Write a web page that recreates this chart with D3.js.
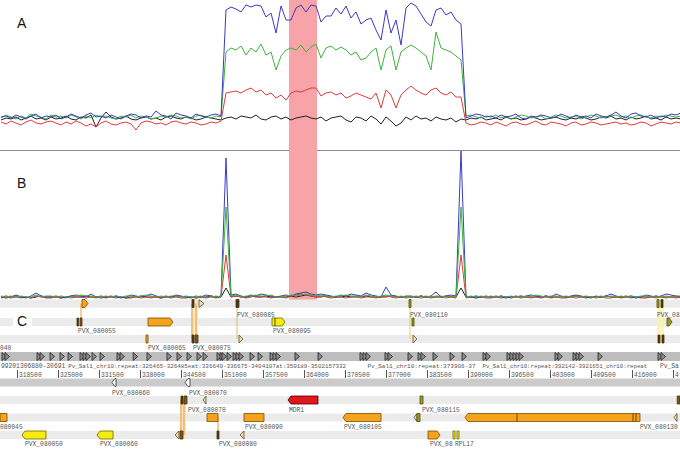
<!DOCTYPE html>
<html><head><meta charset="utf-8">
<script src="https://cdn.jsdelivr.net/npm/d3@7"></script>
<style>body{margin:0;background:#fff}svg{display:block}</style>
</head><body><svg id="c" width="680" height="449"></svg>
<script>
// ---- data ----
const viewBp = [315805, 423612];
const binStart = 315964, binSize = 792.7;
const highlightBp = [361623, 366062];
const panelLabels = ["A", "B", "C"];

const aBlue = [23,24,22,25,23,21,24,26,22,24,23,25,21,23,26,24,22,25,27,23,24,22,25,23,21,24,26,25,22,24,23,29,25,24,21,27,25,24,22,26,24,23,25,26,24,
 130,133,131,128,135,133,135,134,123,127,107,134,120,120,132,135,128,135,134,118,124,124,132,126,134,122,128,116,120,122,110,100,130,107,120,95,132,137,134,126,118,114,130,132,125,128,120,116,
 22,24,26,25,23,24,22,25,23,24,26,22,21,24,23,25,24,22,23,26,24,22,25,23,24,22,26,24,23,25,28,24,22,26,27,24,23,25,22,24,23,26,25,27];
const aGreen = [22,25,23,21,24,22,26,24,23,21,25,23,24,22,25,23,21,24,22,25,23,24,22,21,24,23,25,22,24,23,21,22,24,23,25,24,22,23,21,24,25,23,22,24,23,
 88,92,90,94,85,92,88,96,85,88,70,84,90,92,90,95,88,93,96,82,92,94,90,93,90,85,88,80,82,88,92,70,90,94,70,88,92,95,92,88,84,70,108,92,90,88,84,80,
 24,25,23,22,24,23,25,22,24,21,23,25,24,22,23,24,21,23,25,24,22,23,24,21,23,25,24,22,23,24,25,23,24,22,24,25,23,22,24,23,25,24,23,24];
const aRed = [18,16,19,17,15,18,20,17,16,18,19,17,15,18,16,19,17,14,16,13,17,19,16,15,17,18,16,10,17,19,18,16,17,15,18,19,17,16,18,17,15,16,18,17,19,
 47,48,49,47,50,52,48,50,45,47,42,45,40,47,49,48,50,52,52,44,47,48,45,47,42,44,47,45,43,41,47,32,50,45,32,45,50,54,50,47,45,50,52,47,45,48,43,43,
 17,15,16,18,17,15,18,16,14,17,18,16,15,17,19,16,15,18,17,16,14,17,18,15,16,18,17,15,16,17,18,16,17,15,16,18,17,14,16,18,17,16,18,17];
const aBlack = [20,22,21,23,20,22,24,21,22,20,23,21,22,24,21,20,23,22,25,13,22,28,23,21,22,24,21,20,22,23,21,22,20,23,24,22,21,23,22,20,21,23,22,21,20,
 22,23,21,24,23,22,25,21,20,23,24,21,23,20,22,23,24,22,21,23,19,22,23,24,20,18,23,22,19,24,21,16,23,19,14,17,23,20,24,21,22,19,23,21,20,22,18,21,
 20,22,21,23,20,21,22,20,23,21,22,20,21,23,22,20,21,22,23,21,20,22,21,23,22,20,21,23,22,24,21,22,20,23,21,22,24,21,22,20,23,21,22,21];

const bBlue = [3,4,3,5,3,2,4,7,4,3,3,4,3,2,4,5,4,3,6,3,4,3,4,3,2,3,5,4,3,4,6,4,3,4,3,5,4,3,2,4,3,5,4,3,4,
 142,
 5,6,4,3,5,4,6,5,4,3,4,5,4,6,7,8,6,5,6,5,4,3,5,4,6,5,4,7,5,4,3,13,5,4,3,4,4,3,4,3,4,8,3,4,5,4,
 149,
 4,3,2,3,4,3,4,3,2,3,4,3,4,5,4,3,4,3,6,4,3,4,5,4,3,2,4,3,4,6,4,3,4,3,2,3,5,4,3,4,6,5,4,3];
const bGreen = [4,3,4,3,4,3,3,5,3,4,4,3,4,3,3,4,5,4,4,3,3,4,3,4,3,4,4,3,4,5,4,3,4,3,4,4,3,4,3,3,4,3,3,4,3,
 93,
 4,5,3,4,4,5,4,4,5,3,3,4,5,4,5,6,5,4,5,4,3,4,4,5,4,4,3,5,4,3,4,5,4,3,4,3,3,4,3,4,3,4,4,3,4,3,
 93,
 3,4,3,4,3,4,3,4,3,4,3,4,3,4,5,4,3,4,4,3,4,3,4,3,4,3,3,4,3,4,3,4,3,4,3,4,4,3,4,3,4,3,4,4];
const bRed = [2,3,2,3,2,3,2,4,3,2,2,3,2,3,2,3,3,2,3,2,3,2,3,2,3,2,2,3,2,3,2,3,2,3,2,3,2,2,3,2,3,2,3,2,3,
 45,
 3,4,3,2,3,4,3,3,2,3,3,2,4,5,6,5,4,3,4,3,2,3,3,2,3,4,2,3,3,2,3,4,3,2,3,2,3,3,2,3,2,3,3,2,3,2,
 45,
 2,3,2,3,2,2,3,2,3,2,3,2,3,2,3,2,3,2,3,2,2,3,2,3,2,3,2,3,2,2,3,2,3,2,3,2,2,3,2,3,2,3,2,3];
const bBlack = [3,2,3,4,3,3,2,3,4,3,3,3,2,3,4,3,3,4,3,3,2,3,3,4,3,2,3,3,4,3,3,3,2,3,3,4,3,3,3,2,3,3,4,3,3,
 12,
 3,4,3,3,4,3,3,4,3,3,3,3,4,3,4,5,4,3,3,4,3,3,3,4,3,3,3,4,3,3,3,3,4,3,3,3,3,3,4,3,3,3,3,4,3,3,
 12,
 3,3,4,3,3,3,3,4,3,3,3,4,3,3,3,3,4,3,3,3,3,3,4,3,3,3,3,3,4,3,3,3,3,4,3,3,3,3,4,3,3,3,3,3];

const tickLabels = [318500,325000,331500,338000,344500,351000,357500,364000,370500,377000,383500,390000,396500,403000,409500,416000,422500];

const repeatStarts = [316122,316598,321671,322147,323732,325317,326586,328488,328964,329439,330391,331659,334354,334830,336916,339110,342281,343867,345452,347037,347989,350209,350684,351001,351794,352745,353221,353697,355440,356709,358611,359087,359563,362575,366221,372880,373356,373831,376843,377319,380490,382075,382551,384454,387149,389051,392380,392857,396186,396661,397137,397613,398088,403796,404272,406650,407125,407601,410614,420126,420601];
// [visible text, start bp, pixel width it occupies (0 = natural)]
const repeatLabels = [
 ["99201306880-30691", 315805, 65],
 ["Pv_Sal1_chr10:repeat:326465-326485eat:336649-336675-3404107at:350189-3502157332", 326465, 278],
 ["Pv_Sal1_chr10:repeat:373906-37", 373906, 108],
 ["Pv_Sal1_chr10:repeat:392142-3921651_chr10:repeat", 392142, 165],
 ["Pv_Sal1_chr10", 420283, 0]
];

// [row, start, end, kind, dir]
const topFeatures = [
 [0,328805,329757,"orange",1],[0,346245,346562,"dark",0],[0,347354,347989,"tri",1],
 [0,353220,353696,"dark",0],[0,380648,380965,"olive",0],[0,419966,420283,"olive",0],[0,420600,420917,"dark",0],
 [1,328013,328250,"dark",0],[1,328488,328805,"brown",0],[1,339269,343232,"orange",1],[1,358928,361000,"yellow",1],
 [1,381124,381441,"olive",0],[1,421551,422350,"olive",1],
 [2,338952,339269,"orange",0],[2,346245,346562,"dark",0],[2,346720,347196,"brown",0],[2,353697,354173,"tri",1],
 [2,381282,381758,"tri",1],[2,420126,420443,"dark",0],[2,420760,421077,"dark",0]
];
const bottomFeatures = [
 [3,333561,334195,"white",-1],[3,345135,345928,"white",-1],
 [4,344500,344817,"dark",0],[4,344976,345452,"brown",0],[4,348147,348464,"tri",-1],[4,361465,366221,"red",-1],
 [4,382392,382868,"olive",0],[4,423170,423612,"brown",0],
 [5,315805,316915,"orange",0],[5,348623,350367,"orange",0],[5,354489,357660,"orange",0],[5,370184,376209,"orange",-1],
 [5,381599,381916,"tri",-1],[5,381916,382392,"olive",0],[5,389526,417271,"orange",-1],[5,422820,423137,"tri",-1],
 [6,319293,323098,"yellow",-1],[6,331184,333720,"yellow",-1],[6,343708,344183,"tri",-1],[6,344342,344817,"brown",0],
 [6,350209,350526,"dark",0],[6,354014,354489,"tri",-1],[6,383660,385563,"orange",1],[6,387624,387941,"yellow",0],[6,388258,388575,"yellow",0]
];
const exonBreaks = [[5,397770],[5,416161],[5,416637],[1,359404]];
// [bp, rowFrom, rowTo, colour]
const connectors = [
 [328647,0,1,"#e8a040"],[346245,0,2,"#e89a30"],[346880,0,2,"#e89a30"],[353379,0,2,"#d8c060"],[380806,0,2,"#d8d060"],
 [344500,4,6,"#e89a30"],[344976,4,6,"#e89a30"],[350367,5,6,"#e89a30"]
];
// [startBp, endBp, rowFrom, rowTo, colour]
const paleColumns = [[346100,347200,0,2,"#fbe0b8"],[419966,421077,0,2,"#fbf3a8"],[344342,345300,4,6,"#fbe0b8"]];
// [text, bp, labelRow]
const geneLabels = [
 ["040",315805,2],["PVX_080055",328171,1],["PVX_080065",339269,2],["PVX_080075",346403,2],
 ["PVX_080085",353379,0],["PVX_080095",359087,1],["PVX_080110",380806,0],["PVX_080120",419966,0],
 ["PVX_080060",333561,3],["PVX_080070",345769,3],["PVX_080070",345611,4],["MDR1",361623,4],["PVX_080115",382709,4],
 ["080045",315805,5],["PVX_080090",354647,5],["PVX_080105",370343,5],["PVX_080130",417271,5],
 ["PVX_080050",319769,6],["PVX_080060",331659,6],["PVX_080080",350526,6],["PVX_08",383977,6],["RPL17",387941,6]
];

// ---- drawing ----
const W = 680, H = 449;
const svg = d3.select("#c");
const x = d3.scaleLinear().domain(viewBp).range([0, W]);
const binX = i => x(binStart + i * binSize);
const yA = d3.scaleLinear().domain([0, 140]).range([140, 0]);
const yB = d3.scaleLinear().domain([0, 150]).range([300, 150]);
const rowY = [303.5, 322, 339, 382.5, 400, 417.5, 435];
const labelY = [315, 331, 348, 393, 410, 427, 444];
const mono = "'Liberation Mono','DejaVu Sans Mono',monospace";
const fs = 6.3, charW = fs * 0.6;
// the view window cuts labels at the right edge: keep only the characters that fit
const fit = (s, px) => { const n = Math.floor((W - px) / charW); return n >= String(s).length ? String(s) : String(s).slice(0, Math.max(n, 0)); };

svg.append("line").attr("x1", 0).attr("x2", W).attr("y1", 150.5).attr("y2", 150.5).attr("stroke", "#8c8c8c");
svg.append("rect").attr("x", x(highlightBp[0])).attr("width", x(highlightBp[1]) - x(highlightBp[0]))
  .attr("y", 0).attr("height", 300).attr("fill", "#f8a3a7");

// track bands
const bandColor = ["#ebebeb","#ebebeb","#ebebeb","#cbcbcb","#ebebeb","#ebebeb","#ebebeb"];
rowY.forEach((y, i) => svg.append("rect").attr("x", 0).attr("width", W).attr("y", y - 4).attr("height", 8).attr("fill", bandColor[i]));
svg.append("rect").attr("x", 0).attr("width", W).attr("y", 352).attr("height", 9).attr("fill", "#bdbdbd");

// signal lines
const colors = { blue: "#3a3ac8", green: "#3cb43c", red: "#e03c3c", black: "#222" };
function drawSeries(arr, y, col) {
  const line = d3.line().x((d, i) => binX(i)).y(d => y(d));
  svg.append("path").datum(arr).attr("d", line).attr("fill", "none").attr("stroke", col).attr("stroke-width", 1);
}
drawSeries(aBlack, yA, colors.black); drawSeries(aRed, yA, colors.red);
drawSeries(aGreen, yA, colors.green); drawSeries(aBlue, yA, colors.blue);
drawSeries(bBlack, yB, colors.black); drawSeries(bRed, yB, colors.red);
drawSeries(bBlue, yB, colors.blue); drawSeries(bGreen, yB, colors.green);

// panel letters
const letterPos = [[17, 28], [17, 188], [17, 326]];
svg.append("rect").attr("x", 13).attr("y", 314).attr("width", 19).attr("height", 14).attr("fill", "#fff");
panelLabels.forEach((t, i) => svg.append("text").attr("x", letterPos[i][0]).attr("y", letterPos[i][1])
  .attr("font-family", "'Liberation Sans',Arial,sans-serif").attr("font-size", 14).attr("fill", "#111").text(t));

// pale columns and connectors
paleColumns.forEach(c => svg.append("rect").attr("x", x(c[0])).attr("width", x(c[1]) - x(c[0]))
  .attr("y", rowY[c[2]] - 4).attr("height", rowY[c[3]] - rowY[c[2]] + 8).attr("fill", c[4]).attr("opacity", 0.8));
connectors.forEach(c => svg.append("line").attr("x1", x(c[0])).attr("x2", x(c[0]))
  .attr("y1", rowY[c[1]]).attr("y2", rowY[c[2]]).attr("stroke", c[3]).attr("stroke-width", 1));

// repeat track
svg.append("g").selectAll("path").data(repeatStarts).join("path")
  .attr("d", p => { const px = x(p); return `M${px},352.5L${px + 4.5},356.5L${px},360.5Z`; })
  .attr("fill", "#8c8c8c").attr("stroke", "#222").attr("stroke-width", 0.8);
repeatLabels.forEach(r => {
  const px = Math.max(0, x(r[1])) + 1;
  const size = r[2] ? Math.min(fs, r[2] / (r[0].length * 0.6)) : fs;
  svg.append("text").attr("x", px).attr("y", 368)
    .attr("font-family", mono).attr("font-size", size).attr("fill", "#555").text(r[2] ? r[0] : fit(r[0], px));
});

// axis
const axisG = svg.append("g");
tickLabels.forEach(v => {
  const px = x(v);
  axisG.append("line").attr("x1", px + 0.5).attr("x2", px + 0.5).attr("y1", 370).attr("y2", 378).attr("stroke", "#555");
  axisG.append("text").attr("x", px + 2).attr("y", 376.5).attr("font-family", mono).attr("font-size", fs)
    .attr("fill", "#555").text(fit(v, px + 2));
});

// features
const kindStyle = {
  orange: ["#f5a31c", "#7a4d00"], yellow: ["#f4ec12", "#6e6a00"], red: ["#e5141c", "#3a0000"],
  dark: ["#4a3510", "#4a3510"], brown: ["#7a5520", "#4a3510"], olive: ["#9c9a2a", "#4e4c00"],
  white: ["#ffffff", "#333"], tri: ["#e8dcb4", "#5e5024"]
};
function featPath(f) {
  const y = rowY[f[0]], x0 = x(f[1]), x1 = Math.max(x(f[2]), x0 + 1.2), t = 3, top = y - 4, bot = y + 4;
  if (f[3] === "tri") {
    return f[4] >= 0 ? `M${x0},${top}L${x1 + 1},${y}L${x0},${bot}Z` : `M${x1},${top}L${x0 - 1},${y}L${x1},${bot}Z`;
  }
  if (f[4] === 1) return `M${x0},${top}H${x1 - t}L${x1},${y}L${x1 - t},${bot}H${x0}Z`;
  if (f[4] === -1) return `M${x1},${top}H${x0 + t}L${x0},${y}L${x0 + t},${bot}H${x1}Z`;
  return `M${x0},${top}H${x1}V${bot}H${x0}Z`;
}
svg.append("g").selectAll("path").data(topFeatures.concat(bottomFeatures)).join("path")
  .attr("d", featPath).attr("fill", f => kindStyle[f[3]][0]).attr("stroke", f => kindStyle[f[3]][1])
  .attr("stroke-width", 0.8);
exonBreaks.forEach(e => svg.append("line").attr("x1", x(e[1])).attr("x2", x(e[1]))
  .attr("y1", rowY[e[0]] - 4).attr("y2", rowY[e[0]] + 4).attr("stroke", "#6a4200").attr("stroke-width", 1));

// gene labels
svg.append("g").selectAll("text").data(geneLabels).join("text")
  .attr("x", d => x(d[1])).attr("y", d => labelY[d[2]] + 2)
  .attr("font-family", mono).attr("font-size", fs).attr("fill", "#555").text(d => fit(d[0], x(d[1])));
</script></body></html>
